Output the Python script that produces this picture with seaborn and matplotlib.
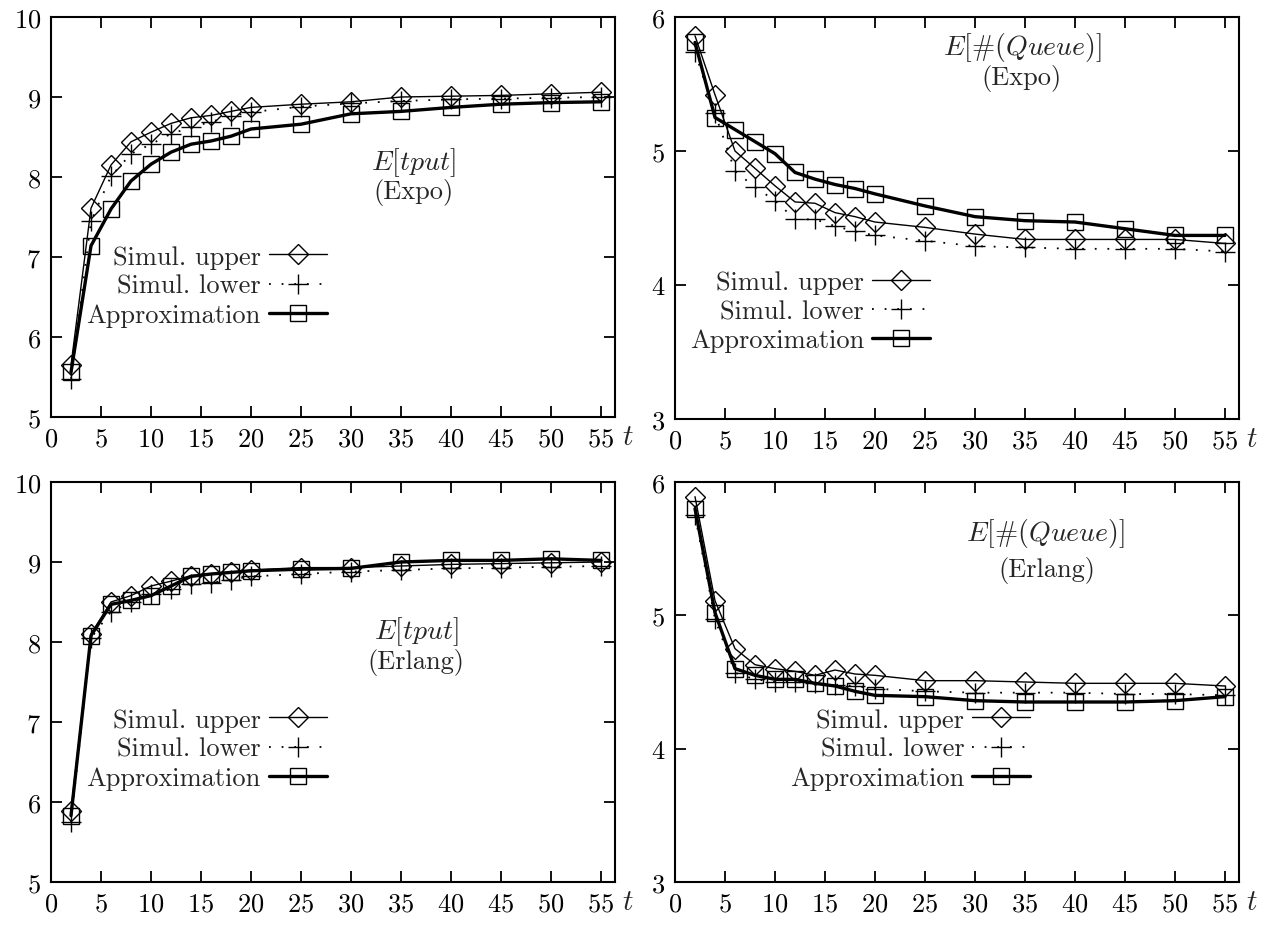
import matplotlib
matplotlib.use("Agg")
import matplotlib.pyplot as plt
import seaborn as sns
import pandas as pd

t = [2, 4, 6, 8, 10, 12, 14, 16, 18, 20, 25, 30, 35, 40, 45, 50, 55]

# E[tput] (Expo)
tput_expo_upper = [5.65, 7.61, 8.15, 8.44, 8.56, 8.67, 8.74, 8.77, 8.82, 8.87, 8.91, 8.94, 9.00, 9.01, 9.02, 9.04, 9.06]
tput_expo_lower = [5.48, 7.45, 8.01, 8.29, 8.41, 8.54, 8.62, 8.69, 8.76, 8.81, 8.88, 8.92, 8.95, 8.97, 8.98, 8.99, 9.00]
tput_expo_approx = [5.56, 7.14, 7.60, 7.95, 8.16, 8.31, 8.41, 8.45, 8.51, 8.60, 8.66, 8.79, 8.82, 8.87, 8.91, 8.93, 8.94]

# E[#(Queue)] (Expo)
q_expo_upper = [5.86, 5.42, 5.00, 4.87, 4.74, 4.62, 4.61, 4.54, 4.51, 4.47, 4.43, 4.38, 4.34, 4.34, 4.34, 4.34, 4.31]
q_expo_lower = [5.74, 5.28, 4.85, 4.73, 4.63, 4.49, 4.49, 4.44, 4.40, 4.37, 4.33, 4.29, 4.28, 4.27, 4.27, 4.27, 4.25]
q_expo_approx = [5.81, 5.25, 5.16, 5.07, 4.98, 4.84, 4.79, 4.75, 4.72, 4.68, 4.59, 4.51, 4.48, 4.47, 4.42, 4.37, 4.37]

# E[tput] (Erlang)
tput_erl_upper = [5.89, 8.10, 8.50, 8.58, 8.70, 8.76, 8.83, 8.85, 8.87, 8.90, 8.93, 8.93, 8.95, 8.97, 8.98, 8.99, 9.00]
tput_erl_lower = [5.75, 8.05, 8.38, 8.50, 8.60, 8.66, 8.72, 8.74, 8.78, 8.82, 8.85, 8.88, 8.90, 8.92, 8.93, 8.94, 8.95]
tput_erl_approx = [5.83, 8.08, 8.47, 8.52, 8.58, 8.70, 8.82, 8.85, 8.87, 8.89, 8.91, 8.92, 9.00, 9.02, 9.02, 9.04, 9.02]

# E[#(Queue)] (Erlang)
q_erl_upper = [5.89, 5.11, 4.75, 4.63, 4.60, 4.58, 4.55, 4.59, 4.56, 4.55, 4.51, 4.51, 4.50, 4.49, 4.49, 4.49, 4.47]
q_erl_lower = [5.75, 4.97, 4.57, 4.52, 4.50, 4.50, 4.49, 4.48, 4.47, 4.45, 4.43, 4.42, 4.42, 4.42, 4.41, 4.41, 4.40]
q_erl_approx = [5.80, 5.02, 4.60, 4.55, 4.52, 4.52, 4.49, 4.47, 4.43, 4.40, 4.39, 4.36, 4.35, 4.35, 4.35, 4.36, 4.39]

labels = ["Simul. upper", "Simul. lower", "Approximation"]
x_ticks = [0, 5, 10, 15, 20, 25, 30, 35, 40, 45, 50, 55]

sns.set_theme(style="ticks")
plt.rcParams["font.family"] = ["cmr10", "DejaVu Serif"]
plt.rcParams["mathtext.fontset"] = "cm"
plt.rcParams["axes.unicode_minus"] = False
plt.rcParams["axes.formatter.use_mathtext"] = True

fig = plt.figure(figsize=(12.61, 9.28), dpi=100)
W, H = 1261, 928


def make_ax(l, r, t_, b):
    return fig.add_axes([l / W, 1 - b / H, (r - l) / W, (b - t_) / H])


panels = [
    dict(box=(51, 615, 18, 418), data=(tput_expo_upper, tput_expo_lower, tput_expo_approx),
         ylim=(5, 10), yticks=[5, 6, 7, 8, 9, 10], title=r"$E[tput]$", sub="(Expo)",
         tpos=(36.2, 8.19), spos=(36.2, 7.82), leg=(0.489, 0.43)),
    dict(box=(675, 1239, 18, 420), data=(q_expo_upper, q_expo_lower, q_expo_approx),
         ylim=(3, 6), yticks=[3, 4, 5, 6], title=r"$E[\#(Queue)]$", sub="(Expo)",
         tpos=(34.7, 5.78), spos=(34.7, 5.55), leg=(0.452, 0.37)),
    dict(box=(51, 615, 483, 883), data=(tput_erl_upper, tput_erl_lower, tput_erl_approx),
         ylim=(5, 10), yticks=[5, 6, 7, 8, 9, 10], title=r"$E[tput]$", sub="(Erlang)",
         tpos=(36.5, 8.14), spos=(36.5, 7.76), leg=(0.489, 0.435)),
    dict(box=(675, 1239, 483, 883), data=(q_erl_upper, q_erl_lower, q_erl_approx),
         ylim=(3, 6), yticks=[3, 4, 5, 6], title=r"$E[\#(Queue)]$", sub="(Erlang)",
         tpos=(37.0, 5.62), spos=(37.2, 5.34), leg=(0.63, 0.435)),
]

styles = [
    dict(marker="D", markersize=10, linestyle="-", linewidth=1.0),
    dict(marker="+", markersize=15, linestyle=(0, (1, 6)), linewidth=1.3),
    dict(marker="s", markersize=11, linestyle="-", linewidth=2.4),
]

FS = 19
for p in panels:
    ax = make_ax(*p["box"])
    for vals, lab, st in zip(p["data"], labels, styles):
        df = pd.DataFrame({"t": t, "v": vals})
        sns.lineplot(data=df, x="t", y="v", ax=ax, color="black", label=lab,
                     markerfacecolor="none", markeredgecolor="black",
                     markeredgewidth=1.0, **st)
    ax.set_xlim(0, 56.4)
    ax.set_ylim(*p["ylim"])
    ax.set_xticks(x_ticks)
    ax.set_yticks(p["yticks"])
    ax.set_xlabel("")
    ax.set_ylabel("")
    ax.tick_params(direction="in", length=8, width=1.3, top=True, right=True,
                   labelsize=FS, pad=7, colors="black")
    for s in ax.spines.values():
        s.set_linewidth(1.5)
        s.set_color("black")
    ax.text(1.013, -0.05, r"$t$", transform=ax.transAxes, fontsize=FS + 2,
            ha="left", va="center")
    ax.text(*p["tpos"], p["title"], fontsize=FS + 1, ha="center", va="center")
    ax.text(*p["spos"], p["sub"], fontsize=FS, ha="center", va="center")
    ax.legend(loc="upper right", bbox_to_anchor=p["leg"], frameon=False,
              markerfirst=False, fontsize=FS, handlelength=2.2, handletextpad=0.3,
              labelspacing=0.2, borderpad=0, borderaxespad=0)

fig.savefig("out.png", dpi=100)
